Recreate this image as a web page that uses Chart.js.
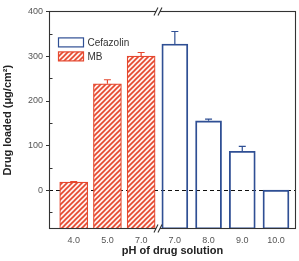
<!DOCTYPE html>
<html><head><meta charset="utf-8">
<script src="https://cdn.jsdelivr.net/npm/chart.js@4/dist/chart.umd.min.js"></script>
<style>html,body{margin:0;padding:0;background:#fff}#wrap{width:299px;height:261px}</style>
</head><body><div id="wrap"><canvas id="c" width="299" height="261"></canvas></div>
<script>
const categories = ['4.0','5.0','7.0','7.0','8.0','9.0','10.0'];
const mbValues = [18, 238, 300];
const mbErrors = [1, 9, 8];
const cefazolinValues = [327, 155, 87, 0];
const cefazolinErrors = [28, 4, 11, 0];
const yMajorTicks = [0, 100, 200, 300, 400];
const yMinorTicks = [-50, 50, 150, 250, 350];
const Y_MIN = -87, Y_MAX = 400;

const RED = '#e5482f', BLUE = '#2f4f94', AXIS = '#333';
const FONT = "'Liberation Sans', Arial, sans-serif";

function hatch() {
  const s = 5, c = document.createElement('canvas');
  c.width = s; c.height = s;
  const g = c.getContext('2d');
  g.fillStyle = '#fff1ed'; g.fillRect(0, 0, s, s);
  g.strokeStyle = RED; g.lineWidth = 1.6;
  g.beginPath();
  g.moveTo(-1, s + 1); g.lineTo(s + 1, -1);
  g.moveTo(-1, 1); g.lineTo(1, -1);
  g.moveTo(s - 1, s + 1); g.lineTo(s + 1, s - 1);
  g.stroke();
  return g.createPattern(c, 'repeat');
}
const hatchPattern = hatch();

const mbData = mbValues.map((v, i) => ({x: i, y: v}));
const cefData = cefazolinValues.map((v, i) => ({x: i + mbValues.length, y: v}));
const errs = [mbErrors, cefazolinErrors];

const zeroLine = {
  id: 'zeroLine',
  beforeDatasetsDraw(ch) {
    const {ctx, chartArea: a, scales: {y}} = ch;
    const py = Math.round(y.getPixelForValue(0)) + 0.5;
    ctx.save(); ctx.strokeStyle = '#111'; ctx.lineWidth = 1; ctx.setLineDash([4, 3]);
    ctx.beginPath(); ctx.moveTo(a.left, py); ctx.lineTo(a.right, py); ctx.stroke(); ctx.restore();
  }
};

const errorBars = {
  id: 'errorBars',
  afterDatasetsDraw(ch) {
    const {ctx, scales: {y}} = ch;
    ch.data.datasets.forEach((ds, di) => {
      const meta = ch.getDatasetMeta(di);
      meta.data.forEach((el, i) => {
        const e = errs[di][i];
        if (!e) return;
        const v = ds.data[i].y;
        const top = y.getPixelForValue(v + e);
        ctx.save(); ctx.strokeStyle = ds.borderColor; ctx.lineWidth = 1.2;
        ctx.beginPath();
        ctx.moveTo(el.x, el.y); ctx.lineTo(el.x, top);
        ctx.moveTo(el.x - 3.5, top); ctx.lineTo(el.x + 3.5, top);
        ctx.stroke(); ctx.restore();
      });
    });
  }
};

const frame = {
  id: 'frame',
  afterDraw(ch) {
    const {ctx, chartArea: a, scales: {x, y}} = ch;
    ctx.save();
    ctx.strokeStyle = AXIS; ctx.lineWidth = 1.1;
    const L = Math.round(a.left) + 0.5, R = Math.round(a.right) - 0.5;
    const T = Math.round(a.top) + 0.5, B = Math.round(a.bottom) - 0.5;
    ctx.strokeRect(L, T, R - L, B - T);
    ctx.beginPath();
    yMajorTicks.forEach(v => { const p = Math.round(y.getPixelForValue(v)) + 0.5; ctx.moveTo(L - 3.5, p); ctx.lineTo(L, p); });
    yMinorTicks.forEach(v => { const p = Math.round(y.getPixelForValue(v)) + 0.5; ctx.moveTo(L, p); ctx.lineTo(L + 3, p); });
    ctx.stroke();
    const xb = (x.getPixelForValue(mbValues.length - 1) + x.getPixelForValue(mbValues.length)) / 2;
    [T, B].forEach(yy => {
      ctx.fillStyle = '#fff';
      ctx.fillRect(xb - 2, yy - 1.5, 4, 3);
      ctx.beginPath();
      [-2, 2].forEach(o => { ctx.moveTo(xb + o - 2, yy + 4); ctx.lineTo(xb + o + 2, yy - 4); });
      ctx.stroke();
    });
    ctx.restore();
  }
};

const legendBox = {
  id: 'legendBox',
  afterDraw(ch) {
    const {ctx, chartArea: a} = ch;
    const items = [
      {label: 'Cefazolin', fill: null, stroke: BLUE},
      {label: 'MB', fill: hatchPattern, stroke: RED}
    ];
    ctx.save();
    items.forEach((it, i) => {
      const bx = a.left + 9.5, by = a.top + 26.5 + i * 14;
      if (it.fill) { ctx.fillStyle = it.fill; ctx.fillRect(bx, by, 25, 9); }
      ctx.strokeStyle = it.stroke; ctx.lineWidth = 1.2; ctx.strokeRect(bx, by, 25, 9);
      ctx.fillStyle = '#333'; ctx.font = '10px ' + FONT; ctx.textBaseline = 'middle'; ctx.textAlign = 'left';
      ctx.fillText(it.label, bx + 29, by + 5);
    });
    ctx.restore();
  }
};

new Chart(document.getElementById('c'), {
  type: 'bar',
  data: {
    datasets: [
      {label: 'MB', data: mbData, backgroundColor: hatchPattern, borderColor: RED, borderWidth: 1.2,
       borderSkipped: false, barThickness: 28, grouped: false, base: Y_MIN},
      {label: 'Cefazolin', data: cefData, backgroundColor: 'rgba(0,0,0,0)', borderColor: BLUE, borderWidth: 1.2,
       borderSkipped: false, barThickness: 26, grouped: false, base: Y_MIN}
    ]
  },
  options: {
    responsive: false, animation: false, devicePixelRatio: 1,
    layout: {padding: {top: 6, right: 3, left: 0, bottom: 0}},
    plugins: {legend: {display: false}, tooltip: {enabled: false}},
    scales: {
      x: {
        type: 'linear', min: -0.733, max: 6.594, offset: false,
        afterBuildTicks: s => { s.ticks = categories.map((c, i) => ({value: i})); },
        afterFit: s => { s.height = 32; },
        grid: {display: false, drawTicks: false}, border: {display: false},
        ticks: {padding: 6, color: '#555', font: {family: FONT, size: 9}, callback: (v) => categories[v], autoSkip: false, maxRotation: 0},
        title: {display: true, text: 'pH of drug solution', color: '#222', font: {family: FONT, size: 11, weight: 'bold'}, padding: {top: 0, bottom: 3}}
      },
      y: {
        min: Y_MIN, max: Y_MAX,
        afterBuildTicks: s => { s.ticks = yMajorTicks.map(v => ({value: v})); },
        afterFit: s => { s.width = 49; },
        grid: {display: false, drawTicks: false}, border: {display: false},
        ticks: {padding: 6, color: '#555', font: {family: FONT, size: 9}},
        title: {display: true, text: 'Drug loaded (μg/cm²)', color: '#222', font: {family: FONT, size: 11, weight: 'bold'}, padding: {top: 1, bottom: 0}}
      }
    }
  },
  plugins: [zeroLine, errorBars, frame, legendBox]
});
</script>
</body></html>
